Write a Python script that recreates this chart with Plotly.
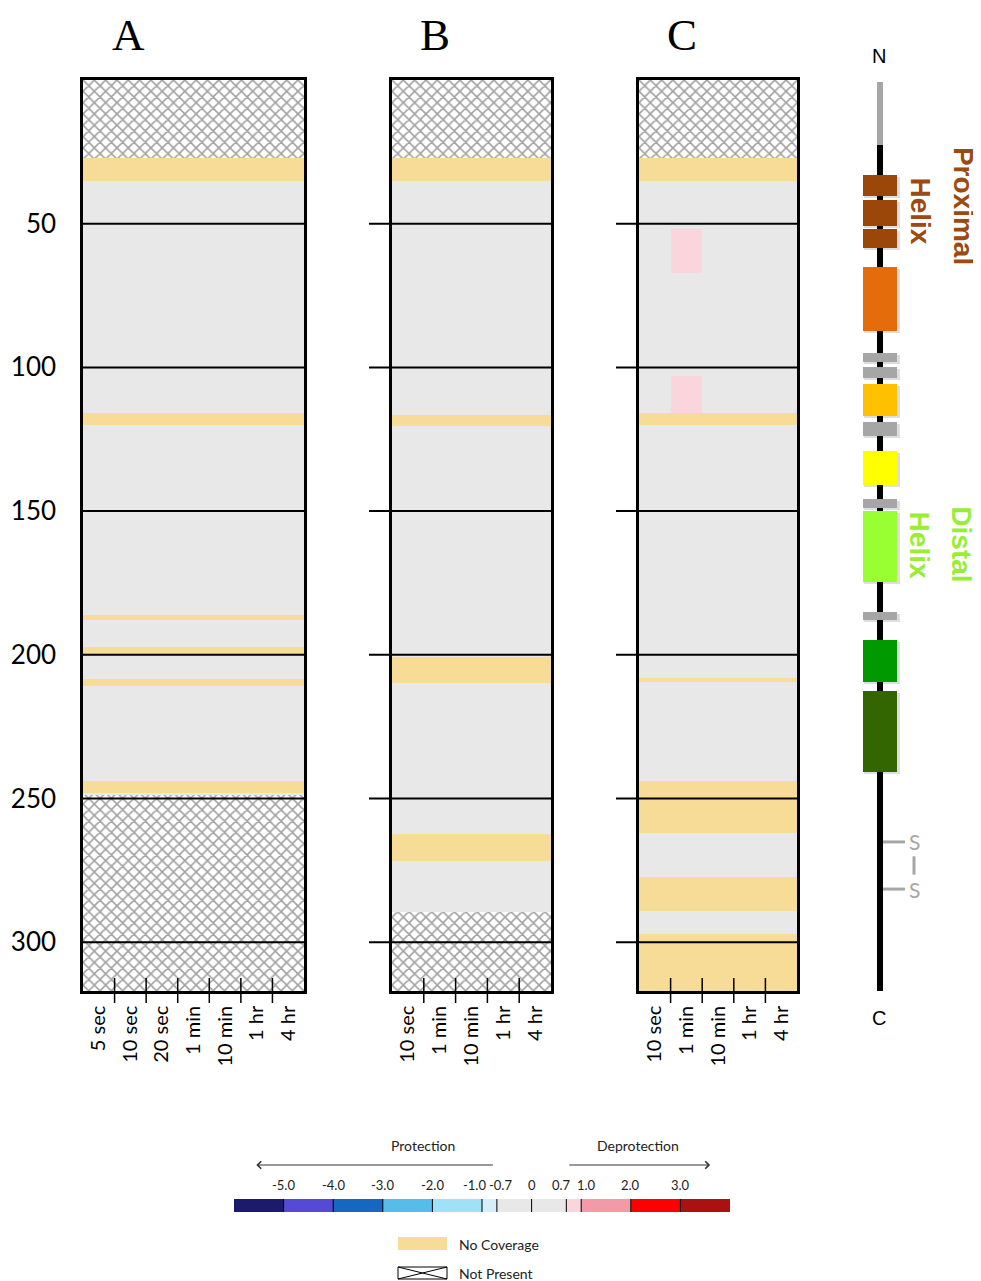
import plotly.graph_objects as go

# ---------------- data ----------------
residue_ticks = [50, 100, 150, 200, 250, 300]
residue_min, residue_max = 0, 317

panel_names = ["A", "B", "C"]
times_A = ["5 sec", "10 sec", "20 sec", "1 min", "10 min", "1 hr", "4 hr"]
times_B = ["10 sec", "1 min", "10 min", "1 hr", "4 hr"]
times_C = ["10 sec", "1 min", "10 min", "1 hr", "4 hr"]

# residues not present in the construct (hatched)
not_present_A_start = [0, 248.7]
not_present_A_end = [27, 317]
not_present_B_start = [0, 289.5]
not_present_B_end = [27, 317]
not_present_C_start = [0]
not_present_C_end = [27]

# residues without peptide coverage
no_cov_A_start = [27, 116, 186, 197.2, 208.4, 244]
no_cov_A_end = [35, 120, 188, 200.4, 211, 248]
no_cov_B_start = [27, 116.5, 200.7, 262.3]
no_cov_B_end = [35, 120.5, 209.8, 271.7]
no_cov_C_start = [27, 116, 208, 244, 277.3, 297]
no_cov_C_end = [35, 120, 209.5, 262, 289, 317]

# differences in deuterium uptake (panel C)
diff_C_time = ["1 min", "1 min"]
diff_C_start = [52, 103]
diff_C_end = [67, 115.8]
diff_C_value = [0.85, 0.85]

# colour scale
scale_edges = [-6, -5, -4, -3, -2, -1, -0.7, 0.7, 1, 2, 3, 4]
scale_colors = ["#1B1B6E", "#5549D6", "#1667C2", "#56BCE9", "#9FE2F8", "#D4EFFA",
                "#E8E8E8", "#FAD5DC", "#F49AA6", "#FF0000", "#AC1111"]
scale_ticks = [-5, -4, -3, -2, -1, -0.7, 0, 0.7, 1, 2, 3]
scale_ticktext = ["-5.0", "-4.0", "-3.0", "-2.0", "-1.0", "-0.7", "0", "0.7", "1.0", "2.0", "3.0"]

# protein domain diagram (residue numbers)
chain_disordered = [0.6, 22.5]
chain_ordered = [22.5, 317]
domain_start = [33.0, 41.6, 51.7, 65.0, 105.7, 128.9, 149.9, 194.8, 212.4]
domain_end = [40.3, 50.7, 58.4, 87.2, 116.7, 140.8, 174.6, 209.3, 240.6]
domain_colors = ["#9A4709", "#9A4709", "#9A4709", "#E46C0A", "#FFC000",
                 "#FFFF00", "#99FF33", "#009900", "#336600"]
linker_start = [94.8, 99.8, 118.9, 145.7, 184.9]
linker_end = [97.9, 103.6, 123.8, 148.7, 187.8]
disulfide_res = [265.1, 281.5]

# ---------------- styling ----------------
OFF = 8  # page body margin
W, H = 981 - OFF, 1281 - OFF
BG = "#E8E8E8"
NOCOV = "#F6DC97"
FONT = "Lato"


def px_x(p):
    return (p - OFF) / W


def px_y(p):
    return 1 - (p - OFF) / H


def scale_color(v):
    for i in range(len(scale_colors)):
        if scale_edges[i] <= v < scale_edges[i + 1]:
            return scale_colors[i]
    return scale_colors[-1]


def ann(**kw):
    kw.setdefault("xanchor", "center")
    kw.setdefault("yanchor", "middle")
    kw.setdefault("showarrow", False)
    return kw


panels = [
    dict(times=times_A, nps=not_present_A_start, npe=not_present_A_end,
         ncs=no_cov_A_start, nce=no_cov_A_end, dom=(83, 304), title_x=128, ext=0),
    dict(times=times_B, nps=not_present_B_start, npe=not_present_B_end,
         ncs=no_cov_B_start, nce=no_cov_B_end, dom=(392, 551), title_x=435, ext=23),
    dict(times=times_C, nps=not_present_C_start, npe=not_present_C_end,
         ncs=no_cov_C_start, nce=no_cov_C_end, dom=(639, 797), title_x=682, ext=23),
]

fig = go.Figure()
shapes = []
annotations = []
layout_axes = {}
panel_ydom = [px_y(991), px_y(80)]

for i, p in enumerate(panels):
    sfx = "" if i == 0 else str(i + 1)
    xa, ya = "x" + sfx, "y" + sfx
    n = len(p["times"])
    common = dict(xaxis=xa, yaxis=ya, hoverinfo="skip", showlegend=False)
    # background
    fig.add_trace(go.Bar(x=[n / 2], y=[residue_max - residue_min], base=[residue_min], width=[n],
                         marker=dict(color=BG, line=dict(width=0)), **common))
    # no coverage
    fig.add_trace(go.Bar(x=[n / 2] * len(p["ncs"]),
                         y=[e - s for s, e in zip(p["ncs"], p["nce"])],
                         base=p["ncs"], width=[n] * len(p["ncs"]),
                         marker=dict(color=NOCOV, line=dict(width=0)), **common))
    # differences (panel C)
    if i == 2:
        fig.add_trace(go.Bar(x=[p["times"].index(t) + 0.5 for t in diff_C_time],
                             y=[e - s for s, e in zip(diff_C_start, diff_C_end)],
                             base=diff_C_start, width=[1] * len(diff_C_start),
                             marker=dict(color=[scale_color(v) for v in diff_C_value],
                                         line=dict(width=0)), **common))
    # not present (hatched)
    fig.add_trace(go.Bar(x=[n / 2] * len(p["nps"]),
                         y=[e - s for s, e in zip(p["nps"], p["npe"])],
                         base=p["nps"], width=[n] * len(p["nps"]),
                         marker=dict(color="white", line=dict(width=0),
                                     pattern=dict(shape="x", fgcolor="#444444", bgcolor="white",
                                                  size=8, solidity=0.36)),
                         **common))

    x0, x1 = p["dom"]
    layout_axes["xaxis" + sfx] = dict(
        domain=[px_x(x0), px_x(x1)], range=[0, n], anchor=ya,
        showline=True, mirror=True, linewidth=2.5, linecolor="black",
        showgrid=False, zeroline=False, ticks="",
        tickvals=[k + 0.5 for k in range(n)], ticktext=p["times"],
        tickangle=-90, ticklabelstandoff=4,
        tickfont=dict(family=FONT, size=20, color="black"), fixedrange=True)
    layout_axes["yaxis" + sfx] = dict(
        domain=panel_ydom, range=[residue_max, residue_min], anchor=xa,
        showline=True, mirror=True, linewidth=2.5, linecolor="black",
        showgrid=False, zeroline=False, ticks="",
        tickvals=residue_ticks if i == 0 else [], showticklabels=(i == 0),
        ticklabelstandoff=19,
        tickfont=dict(family=FONT, size=26, color="black"), fixedrange=True)

    # residue lines
    ext = -p["ext"] / (x1 - x0)
    for r in residue_ticks:
        shapes.append(dict(type="line", xref=xa + " domain", yref=ya, x0=ext, x1=1, y0=r, y1=r,
                           line=dict(color="black", width=2)))
    # column boundary ticks
    ph = 911
    for k in range(1, n):
        shapes.append(dict(type="line", xref=xa, yref=ya + " domain", x0=k, x1=k,
                           y0=-12 / ph, y1=13 / ph, line=dict(color="black", width=1.5)))
    # panel title
    annotations.append(ann(text=panel_names[i], x=px_x(p["title_x"]), y=1.0, xref="paper",
                           yref="paper", yanchor="top",
                           font=dict(family="Liberation Serif", size=45, color="black")))

# ---------------- protein diagram ----------------
dcommon = dict(xaxis="x4", yaxis="y4", hoverinfo="skip", showlegend=False)
cx = 40
fig.add_trace(go.Bar(x=[cx], y=[chain_disordered[1] - chain_disordered[0]], base=[chain_disordered[0]],
                     width=[6.6], marker=dict(color="#A6A6A6", line=dict(width=0)), **dcommon))
fig.add_trace(go.Bar(x=[cx], y=[chain_ordered[1] - chain_ordered[0]], base=[chain_ordered[0]],
                     width=[6.6], marker=dict(color="black", line=dict(width=0)), **dcommon))
# shadows
fig.add_trace(go.Bar(x=[cx + 1.5] * (len(domain_start) + len(linker_start)),
                     y=[e - s for s, e in zip(domain_start + linker_start, domain_end + linker_end)],
                     base=[s + 0.8 for s in domain_start + linker_start],
                     width=[36] * (len(domain_start) + len(linker_start)),
                     marker=dict(color="rgba(0,0,0,0.13)", line=dict(width=0)), **dcommon))
fig.add_trace(go.Bar(x=[cx] * len(linker_start),
                     y=[e - s for s, e in zip(linker_start, linker_end)], base=linker_start,
                     width=[34.6] * len(linker_start),
                     marker=dict(color="#A6A6A6", line=dict(width=0)), **dcommon))
fig.add_trace(go.Bar(x=[cx] * len(domain_start),
                     y=[e - s for s, e in zip(domain_start, domain_end)], base=domain_start,
                     width=[34.6] * len(domain_start),
                     marker=dict(color=domain_colors, line=dict(width=0)), **dcommon))
for r in disulfide_res:
    fig.add_trace(go.Scatter(x=[43, 65], y=[r, r], mode="lines",
                             line=dict(color="#A6A6A6", width=3), **dcommon))
    annotations.append(ann(text="S", x=74, y=r, xref="x4", yref="y4",
                           font=dict(family=FONT, size=21, color="#A6A6A6")))
fig.add_trace(go.Scatter(x=[74, 74], y=[disulfide_res[0] + 5, disulfide_res[1] - 5], mode="lines",
                         line=dict(color="#A6A6A6", width=3), **dcommon))
annotations.append(ann(text="N", x=39.3, y=-8.6, xref="x4", yref="y4",
                       font=dict(family="Liberation Sans", size=20, color="black")))
annotations.append(ann(text="C", x=39.3, y=326.4, xref="x4", yref="y4",
                       font=dict(family="Liberation Sans", size=20, color="black")))
for txt, x, y, col in [("Proximal", 123, 43.7, "#9C4A0F"), ("Helix", 81, 45.3, "#9C4A0F"),
                       ("Distal", 121.7, 161.4, "#99EE33"), ("Helix", 79, 161.6, "#99EE33")]:
    annotations.append(ann(text="<b>" + txt + "</b>", x=x, y=y, xref="x4", yref="y4",
                           textangle=90,
                           font=dict(family="Liberation Sans", size=28, color=col)))

layout_axes["xaxis4"] = dict(domain=[px_x(840), px_x(980)], range=[0, 140], visible=False,
                             anchor="y4", fixedrange=True)
layout_axes["yaxis4"] = dict(domain=[px_y(1035), px_y(40)], range=[332.3, -14.04], visible=False,
                             anchor="x4", fixedrange=True)

# ---------------- colour scale legend ----------------
fig.add_trace(go.Bar(y=[0.5] * len(scale_colors),
                     x=[scale_edges[k + 1] - scale_edges[k] for k in range(len(scale_colors))],
                     base=scale_edges[:-1], width=[1] * len(scale_colors), orientation="h",
                     marker=dict(color=scale_colors, line=dict(width=0)),
                     xaxis="x5", yaxis="y5", hoverinfo="skip", showlegend=False))
layout_axes["xaxis5"] = dict(domain=[px_x(234), px_x(730)], range=[scale_edges[0], scale_edges[-1]],
                             visible=False, anchor="y5", fixedrange=True)
layout_axes["yaxis5"] = dict(domain=[px_y(1212), px_y(1199)], range=[0, 1], visible=False,
                             anchor="x5", fixedrange=True)
shifts = {-1: -8, -0.7: 4, 0.7: -5, 1: 5}
for v, t in zip(scale_ticks, scale_ticktext):
    shapes.append(dict(type="line", xref="x5", yref="y5", x0=v, x1=v, y0=0, y1=1,
                       line=dict(color="black", width=1)))
    annotations.append(ann(text=t, x=v, y=px_y(1185), xref="x5", yref="paper",
                           xshift=shifts.get(v, 0),
                           font=dict(family=FONT, size=13, color="#222")))
# arrows
annotations.append(dict(text="", x=-5.55, y=px_y(1165), ax=-0.75, ay=0, xref="x5", yref="paper",
                        axref="x5", ayref="pixel", showarrow=True, arrowhead=4, arrowsize=1.2,
                        arrowwidth=1.2, arrowcolor="#333"))
annotations.append(dict(text="", x=3.6, y=px_y(1165), ax=0.73, ay=0, xref="x5", yref="paper",
                        axref="x5", ayref="pixel", showarrow=True, arrowhead=4, arrowsize=1.2,
                        arrowwidth=1.2, arrowcolor="#333"))
annotations.append(ann(text="Protection", x=px_x(423), y=px_y(1145), xref="paper", yref="paper",
                       font=dict(family=FONT, size=14, color="#222")))
annotations.append(ann(text="Deprotection", x=px_x(638), y=px_y(1145), xref="paper", yref="paper",
                       font=dict(family=FONT, size=14, color="#222")))

# legend swatches
shapes.append(dict(type="rect", xref="paper", yref="paper", x0=px_x(398), x1=px_x(447),
                   y0=px_y(1250), y1=px_y(1237), fillcolor=NOCOV, line=dict(width=0)))
shapes.append(dict(type="rect", xref="paper", yref="paper", x0=px_x(398), x1=px_x(447),
                   y0=px_y(1279), y1=px_y(1267), fillcolor="white", line=dict(color="black", width=1)))
shapes.append(dict(type="line", xref="paper", yref="paper", x0=px_x(398), x1=px_x(447),
                   y0=px_y(1267), y1=px_y(1279), line=dict(color="black", width=1)))
shapes.append(dict(type="line", xref="paper", yref="paper", x0=px_x(398), x1=px_x(447),
                   y0=px_y(1279), y1=px_y(1267), line=dict(color="black", width=1)))
annotations.append(ann(text="No Coverage", x=px_x(457), y=px_y(1244), xref="paper", yref="paper",
                       xanchor="left", font=dict(family=FONT, size=14, color="#222")))
annotations.append(ann(text="Not Present", x=px_x(457), y=px_y(1273), xref="paper", yref="paper",
                       xanchor="left", font=dict(family=FONT, size=14, color="#222")))

fig.update_layout(
    width=W, height=H, margin=dict(l=0, r=0, t=0, b=0),
    paper_bgcolor="white", plot_bgcolor="white",
    barmode="overlay", bargap=0, showlegend=False,
    shapes=shapes, annotations=annotations, **layout_axes)

fig.write_html("out.html")
